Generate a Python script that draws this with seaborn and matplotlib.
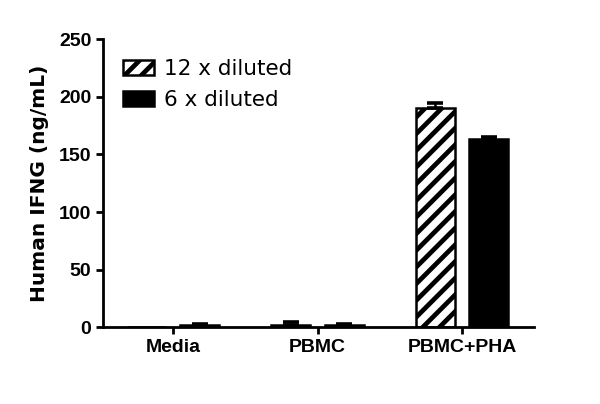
import numpy as np
import pandas as pd
import matplotlib
matplotlib.use("Agg")
import matplotlib.pyplot as plt
import seaborn as sns
from matplotlib.patches import Patch

# values
samples = ["Media", "PBMC", "PBMC+PHA"]
dil_12x = [0.0, 2.2, 190.5]
dil_12x_err = [0.0, 2.2, 4.0]
dil_6x = [2.3, 1.6, 163.0]
dil_6x_err = [0.6, 1.6, 2.5]
series = ["12 x diluted", "6 x diluted"]

df = pd.DataFrame({
    "sample": samples * 2,
    "series": [series[0]] * 3 + [series[1]] * 3,
    "value": dil_12x + dil_6x,
})

sns.set_style("ticks")
plt.rcParams["hatch.linewidth"] = 3.4
plt.rcParams["font.family"] = ["Liberation Sans", "DejaVu Sans"]
for k in ["text.color", "axes.labelcolor", "xtick.color", "ytick.color", "axes.edgecolor"]:
    plt.rcParams[k] = "black"

fig = plt.figure(figsize=(6.0, 4.04), dpi=100)
ax = fig.add_axes([0.172, 0.19, 0.718, 0.713])

sns.barplot(data=df, x="sample", y="value", hue="series", order=samples,
            hue_order=series, palette=["white", "black"], width=0.74, gap=0.27,
            errorbar=None, edgecolor="black", linewidth=1.8, legend=False, ax=ax)

# hatch the first series, add one-sided error bars
bar_groups = list(ax.containers)
for i, cont in enumerate(bar_groups):
    errs = dil_12x_err if i == 0 else dil_6x_err
    vals = dil_12x if i == 0 else dil_6x
    for bar, v, e in zip(cont, vals, errs):
        if i == 0:
            bar.set_hatch("//")
            bar.set_facecolor("white")
        cx = bar.get_x() + bar.get_width() / 2
        if v > 0:
            ax.errorbar(cx, v, yerr=[[0], [e]], fmt="none", ecolor="black",
                        elinewidth=1.8, capsize=6, capthick=2.6)

ax.set_xlim(-0.483, 2.497)
ax.set_ylim(0, 250)
ax.set_yticks([0, 50, 100, 150, 200, 250])
ax.set_xlabel("")
ax.set_ylabel("Human IFNG (ng/mL)", fontsize=14.5, fontweight="bold", labelpad=7,
              family="DejaVu Sans")
for s in ["top", "right"]:
    ax.spines[s].set_visible(False)
for s in ["left", "bottom"]:
    ax.spines[s].set_linewidth(2)
ax.tick_params(axis="both", width=2, length=5, labelsize=14)
for lab in ax.get_xticklabels() + ax.get_yticklabels():
    lab.set_fontweight("bold")

handles = [Patch(facecolor="white", edgecolor="black", hatch="//", linewidth=1.8),
           Patch(facecolor="black", edgecolor="black", linewidth=1.8)]
ax.legend(handles, series, loc="upper left", bbox_to_anchor=(0.0, 0.998),
          frameon=False, handlelength=1.45, handleheight=0.7,
          handletextpad=0.47, labelspacing=0.5,
          prop={"family": "DejaVu Sans", "size": 15.5})

fig.savefig("out.png", dpi=100)
